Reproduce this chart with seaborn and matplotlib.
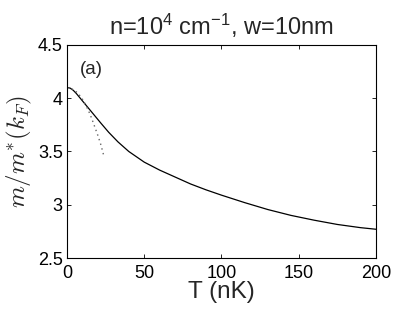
import matplotlib
matplotlib.use("Agg")
import matplotlib.pyplot as plt
import seaborn as sns
import pandas as pd

# solid curve: m/m*(k_F) vs T
T_full = [0, 2, 4, 6, 8, 10, 14, 18, 22, 27, 33, 40, 50, 60, 70, 80, 90, 100,
          115, 130, 145, 160, 175, 190, 200]
mass_full = [4.10, 4.095, 4.075, 4.045, 4.01, 3.975, 3.905, 3.835, 3.765,
             3.68, 3.59, 3.50, 3.40, 3.325, 3.26, 3.195, 3.14, 3.09, 3.02,
             2.955, 2.90, 2.855, 2.815, 2.785, 2.77]

# dotted curve: low-T expansion
T_low = [0, 2, 4, 6, 8, 10, 12, 14, 16, 18, 20, 22, 24]
mass_low = [4.10, 4.095, 4.08, 4.06, 4.03, 3.99, 3.94, 3.88, 3.81, 3.73, 3.65,
            3.56, 3.45]

x_ticks = [0, 50, 100, 150, 200]
y_ticks = [2.5, 3, 3.5, 4, 4.5]

sns.set_theme(style="white")
plt.rcParams["font.family"] = ["Liberation Sans", "DejaVu Sans"]
plt.rcParams.update({
    "mathtext.fontset": "custom",
    "mathtext.rm": "Liberation Sans",
    "mathtext.it": "Liberation Sans:italic",
    "axes.edgecolor": "black",
    "axes.linewidth": 0.8,
    "xtick.direction": "in",
    "ytick.direction": "in",
})

df_full = pd.DataFrame({"T": T_full, "m": mass_full})
df_low = pd.DataFrame({"T": T_low, "m": mass_low})

fig = plt.figure(figsize=(4.15, 3.12), dpi=100)
ax = fig.add_axes([0.1614, 0.173, 0.7446, 0.683])

sns.lineplot(data=df_full, x="T", y="m", ax=ax, color="black", linewidth=0.9)
sns.lineplot(data=df_low, x="T", y="m", ax=ax, color="#666666",
             linewidth=1.0, linestyle=(0, (1, 2.5)))

ax.set_xlim(0, 200)
ax.set_ylim(2.5, 4.5)
ax.set_xticks(x_ticks)
ax.set_xticklabels([str(v) for v in x_ticks])
ax.set_yticks(y_ticks)
ax.set_yticklabels(["2.5", "3", "3.5", "4", "4.5"])
ax.tick_params(axis="both", which="both", labelsize=13, length=3, width=0.6,
               top=True, right=True, bottom=True, left=True, colors="black")
ax.tick_params(axis="x", pad=5)
ax.tick_params(axis="y", pad=3)
for s in ax.spines.values():
    s.set_visible(True)
    s.set_color("black")

ax.text(8.4, 4.265, "(a)", fontsize=13.5, va="center", ha="left")
ax.set_title(r"n=10$^4$ cm$^{-1}$, w=10nm", fontsize=17, pad=7)
ax.set_xlabel("T (nK)", fontsize=17.5, labelpad=-1)
ax.set_ylabel(r"$m/m^{*}(k_F)$", fontsize=18, math_fontfamily="cm", labelpad=3)

plt.savefig("out.png", dpi=100)
